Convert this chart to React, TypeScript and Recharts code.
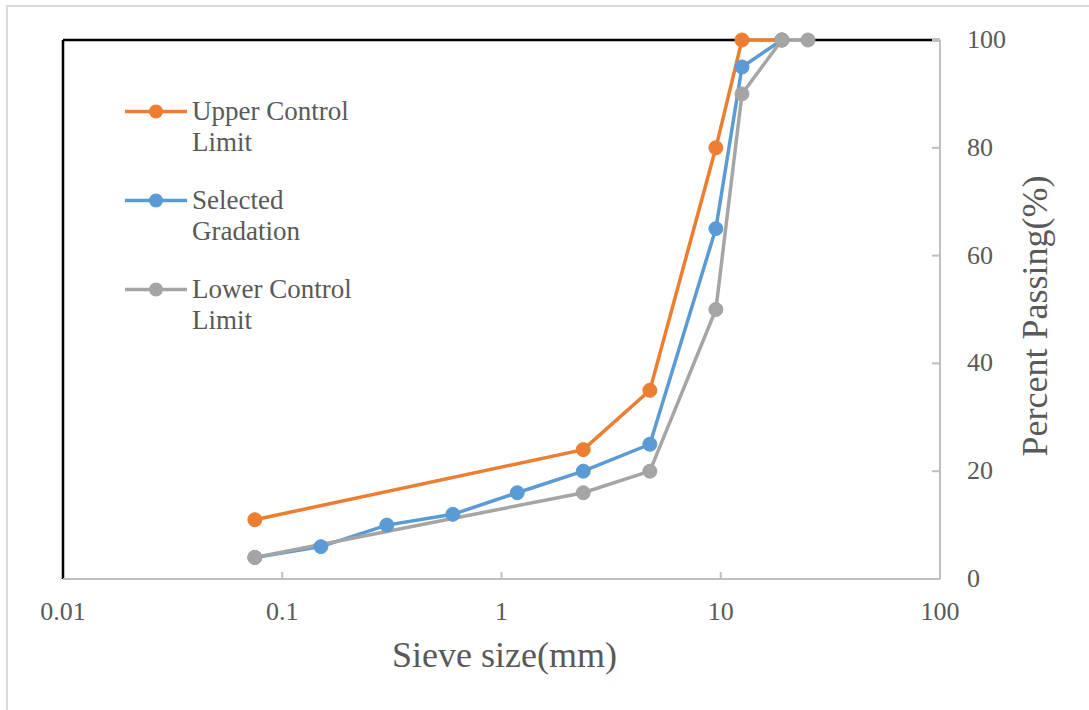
import { LineChart, Line, XAxis, YAxis, Legend, ReferenceLine, Label } from 'recharts'

const sieveUpper = [0.075, 2.36, 4.75, 9.5, 12.5, 19]
const passUpper = [11, 24, 35, 80, 100, 100]
const sieveSelected = [0.075, 0.15, 0.3, 0.6, 1.18, 2.36, 4.75, 9.5, 12.5, 19]
const passSelected = [4, 6, 10, 12, 16, 20, 25, 65, 95, 100]
const sieveLower = [0.075, 2.36, 4.75, 9.5, 12.5, 19, 25]
const passLower = [4, 16, 20, 50, 90, 100, 100]

const xTicks = [0.01, 0.1, 1, 10, 100]
const yTicks = [0, 20, 40, 60, 80, 100]

const SERIES = [
  { key: 'upper', name: 'Upper Control Limit', lines: ['Upper Control', 'Limit'], color: '#ED7D31', x: sieveUpper, y: passUpper },
  { key: 'selected', name: 'Selected Gradation', lines: ['Selected', 'Gradation'], color: '#5B9BD5', x: sieveSelected, y: passSelected },
  { key: 'lower', name: 'Lower Control Limit', lines: ['Lower Control', 'Limit'], color: '#A5A5A5', x: sieveLower, y: passLower },
]

const FONT = '"Liberation Serif", "Times New Roman", serif'
const TEXT = '#595959'
const AXIS = '#BFBFBF'

const XTick = (props: any) => {
  const { x, y, payload, index } = props
  const edge = index === 0 || index === xTicks.length - 1
  return (
    <g>
      {!edge && <line x1={x} x2={x} y1={y} y2={y - 7} stroke={AXIS} strokeWidth={2} />}
      <text x={x} y={y + 41} textAnchor="middle" fill={TEXT} fontSize={26} fontFamily={FONT}>
        {String(payload.value)}
      </text>
    </g>
  )
}

const YTick = (props: any) => {
  const { x, y, payload } = props
  return (
    <g>
      <line x1={x - 8} x2={x} y1={y} y2={y} stroke={AXIS} strokeWidth={2} />
      <text x={x + 27} y={y + 8} textAnchor="start" fill={TEXT} fontSize={26} fontFamily={FONT}>
        {String(payload.value)}
      </text>
    </g>
  )
}

const LegendBox = () => (
  <div style={{ fontFamily: FONT, fontSize: 27, color: TEXT, textAlign: 'left' }}>
    {SERIES.map((s) => (
      <div key={s.key} style={{ display: 'flex', alignItems: 'flex-start', marginBottom: 27 }}>
        <svg width={67} height={31} style={{ flex: 'none' }}>
          <line x1={0} x2={62} y1={15.5} y2={15.5} stroke={s.color} strokeWidth={3.5} />
          <circle cx={31} cy={15.5} r={7} fill={s.color} />
        </svg>
        <div style={{ lineHeight: '31px', whiteSpace: 'nowrap' }}>
          {s.lines.map((l) => (
            <div key={l}>{l}</div>
          ))}
        </div>
      </div>
    ))}
  </div>
)

export default function App() {
  return (
    <div style={{ position: 'absolute', left: 0, top: 0, width: 1089, height: 710, overflow: 'hidden', background: '#fff' }}>
      <div style={{ position: 'absolute', left: 6, top: 5, width: 1100, height: 720, border: '2px solid #D9D9D9' }} />
      <LineChart
        width={1089}
        height={710}
        margin={{ top: 40, right: 49, bottom: 51, left: 63 }}
        style={{ position: 'absolute', left: 0, top: 0 }}
      >
        <XAxis
          type="number"
          dataKey="x"
          scale="log"
          domain={[0.01, 100]}
          ticks={xTicks}
          tick={<XTick />}
          tickLine={false}
          tickSize={0}
          tickMargin={0}
          height={80}
          axisLine={{ stroke: AXIS, strokeWidth: 2 }}
          interval={0}
        >
          <Label
            content={(p: any) => {
              const vb = p.viewBox
              return (
                <text x={vb.x + vb.width / 2 + 3} y={vb.y + 88} textAnchor="middle" fill={TEXT} fontSize={36} fontFamily={FONT}>
                  Sieve size(mm)
                </text>
              )
            }}
          />
        </XAxis>
        <YAxis
          type="number"
          dataKey="y"
          orientation="right"
          domain={[0, 100]}
          ticks={yTicks}
          tick={<YTick />}
          tickLine={false}
          tickSize={0}
          tickMargin={0}
          width={100}
          axisLine={{ stroke: AXIS, strokeWidth: 2 }}
          interval={0}
        >
          <Label
            content={(p: any) => {
              const vb = p.viewBox
              const cx = vb.x + 107
              const cy = 316
              return (
                <text x={cx} y={cy} transform={`rotate(-90, ${cx}, ${cy})`} textAnchor="middle" fill={TEXT} fontSize={36} fontFamily={FONT}>
                  Percent Passing(%)
                </text>
              )
            }}
          />
        </YAxis>
        <ReferenceLine y={100} stroke="#000" strokeWidth={2.5} />
        <ReferenceLine x={0.01} stroke="#000" strokeWidth={2.5} />
        {SERIES.map((s) => (
          <Line
            key={s.key}
            data={s.x.map((x, i) => ({ x, y: s.y[i] }))}
            dataKey="y"
            name={s.name}
            type="linear"
            stroke={s.color}
            strokeWidth={3.5}
            dot={{ r: 7, fill: s.color, stroke: s.color, strokeWidth: 1 }}
            activeDot={false}
            isAnimationActive={false}
          />
        ))}
        <Legend
          layout="horizontal"
          verticalAlign="middle"
          align="center"
          content={<LegendBox />}
          wrapperStyle={{ position: 'absolute', left: 125, top: 96, width: 'auto', height: 'auto' }}
        />
      </LineChart>
    </div>
  )
}
